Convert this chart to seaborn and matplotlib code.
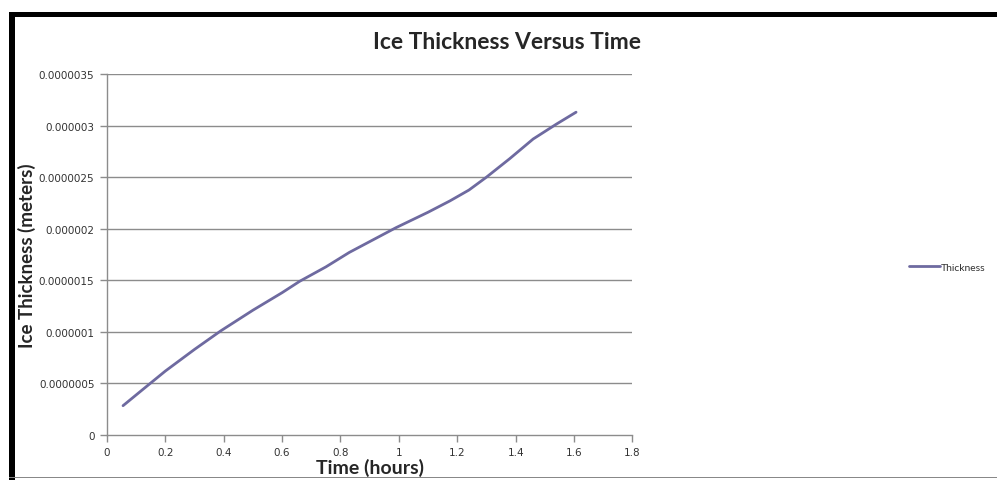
import numpy as np
import pandas as pd
import matplotlib
matplotlib.use("Agg")
import matplotlib.pyplot as plt
import seaborn as sns
from matplotlib.patches import Rectangle
from matplotlib.lines import Line2D

# Dados
time_hours = [0.055, 0.12, 0.2, 0.3, 0.39, 0.5, 0.6, 0.66, 0.75, 0.83, 0.99, 1.1, 1.175, 1.24, 1.3, 1.38, 1.46, 1.54, 1.607]
thickness = [2.84e-7, 4.35e-7, 6.2e-7, 8.3e-7, 1.01e-6, 1.21e-6, 1.38e-6, 1.49e-6, 1.63e-6, 1.77e-6,
             2.01e-6, 2.16e-6, 2.27e-6, 2.375e-6, 2.50e-6, 2.68e-6, 2.87e-6, 3.015e-6, 3.13e-6]

y_ticks = [0, 5e-7, 1e-6, 1.5e-6, 2e-6, 2.5e-6, 3e-6, 3.5e-6]
y_tick_labels = ["0", "0.0000005", "0.000001", "0.0000015", "0.000002", "0.0000025", "0.000003", "0.0000035"]
x_ticks = [0, 0.2, 0.4, 0.6, 0.8, 1.0, 1.2, 1.4, 1.6, 1.8]
x_tick_labels = ["0", "0.2", "0.4", "0.6", "0.8", "1", "1.2", "1.4", "1.6", "1.8"]

df = pd.DataFrame({"Time": time_hours, "Thickness": thickness})

sns.set_style("white")
plt.rcParams['font.family'] = ['Lato', 'DejaVu Sans']

fig = plt.figure(figsize=(9.97, 4.81), dpi=100)
ax = fig.add_axes([0.1073, 0.0936, 0.527, 0.7504])

line_color = "#6e6aa0"
sns.lineplot(data=df, x="Time", y="Thickness", ax=ax, color=line_color, linewidth=2.0)

ax.set_xlim(0, 1.8)
ax.set_ylim(0, 3.5e-6)
ax.set_yticks(y_ticks)
ax.set_yticklabels(y_tick_labels, fontfamily="DejaVu Sans")
ax.set_xticks(x_ticks)
ax.set_xticklabels(x_tick_labels, fontfamily="DejaVu Sans")

for y in y_ticks[1:]:
    ax.axhline(y, color="#8c8c8c", linewidth=1.0, zorder=0)

for side in ["top", "right"]:
    ax.spines[side].set_visible(False)
for side in ["left", "bottom"]:
    ax.spines[side].set_color("#8c8c8c")
    ax.spines[side].set_linewidth(1.0)

ax.tick_params(axis="both", which="both", direction="out", length=5, width=1.0,
               color="#8c8c8c", labelsize=7.5, labelcolor="#333333", pad=4)
ax.tick_params(axis="x", bottom=True)
ax.tick_params(axis="y", left=True)

ax.set_xlabel("Time (hours)", fontsize=14, fontweight="bold", labelpad=0)
ax.set_ylabel("Ice Thickness (meters)", fontsize=13.5, fontweight="bold", labelpad=0)
ax.yaxis.set_label_coords(-0.135, 0.5)

fig.text(0.509, 0.911, "Ice Thickness Versus Time", ha="center", va="center",
         fontsize=16.5, fontweight="bold")

handle = Line2D([0], [0], color=line_color, linewidth=2.0)
fig.legend([handle], ["Thickness"], loc="center left", bbox_to_anchor=(0.902, 0.442),
           frameon=False, fontsize=7.5, handlelength=3.0, handletextpad=0.1,
           labelcolor="#333333")

# Bordas pretas (topo e esquerda) e linha cinza embaixo
fig.patches.append(Rectangle((0.009, 0.0), 0.006, 0.973, transform=fig.transFigure,
                             facecolor="black", edgecolor="none"))
fig.patches.append(Rectangle((0.009, 0.962), 0.991, 0.011, transform=fig.transFigure,
                             facecolor="black", edgecolor="none"))
fig.patches.append(Rectangle((0.009, 0.004), 0.991, 0.003, transform=fig.transFigure,
                             facecolor="#888888", edgecolor="none"))

fig.savefig("out.png", dpi=100)
